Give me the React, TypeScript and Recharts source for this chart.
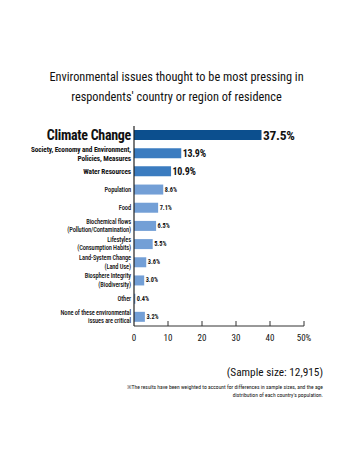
import { BarChart, Bar, XAxis, YAxis, Cell, LabelList } from "recharts";

const categories = [
  "Climate Change",
  "Society, Economy and Environment,\nPolicies, Measures",
  "Water Resources",
  "Population",
  "Food",
  "Biochemical flows\n(Pollution/Contamination)",
  "Lifestyles\n(Consumption Habits)",
  "Land-System Change\n(Land Use)",
  "Biosphere Integrity\n(Biodiversity)",
  "Other",
  "None of these environmental\nissues are critical",
];
const shares = [37.5, 13.9, 10.9, 8.6, 7.1, 6.5, 5.5, 3.6, 3.0, 0.4, 3.2];
const xTicks = [0, 10, 20, 30, 40, 50];

const data = categories.map((name, i) => ({ name, share: shares[i] }));

const FONT = "'Roboto Condensed', Roboto, sans-serif";

const barColor = (i: number) => (i === 0 ? "#0c4f8e" : i < 3 ? "#3b7cc0" : "#739fd6");

// label size depends on the rank of the row
const labelStyle = (i: number) =>
  i === 0
    ? { size: 14, weight: 700 }
    : i < 3
    ? { size: 7.3, weight: 700 }
    : { size: 6.4, weight: 500 };

const YTick = (props: any) => {
  const { x, y, payload, index } = props;
  const lines = String(payload.value).split("\n");
  const st = labelStyle(index);
  const lh = 8.6;
  const start = y - ((lines.length - 1) * lh) / 2;
  return (
    <text
      x={x - 3}
      y={start}
      textAnchor="end"
      dominantBaseline="central"
      fontFamily={FONT}
      fontSize={st.size}
      fontWeight={st.weight}
      fill="#111"
      style={{ letterSpacing: index === 0 ? -0.3 : -0.1 }}
    >
      {lines.map((l, k) => (
        <tspan key={k} x={x - 3} dy={k === 0 ? 0 : lh}>
          {l}
        </tspan>
      ))}
    </text>
  );
};

const XTick = (props: any) => {
  const { x, y, payload } = props;
  return (
    <g>
      {payload.value !== 0 && (
        <line x1={x} x2={x} y1={y} y2={y - 5} stroke="#333" strokeWidth={1} />
      )}
      <text x={x} y={y + 15} textAnchor="middle" fontFamily={FONT} fontSize={9} fill="#111">
        {payload.value === 50 ? "50%" : payload.value}
      </text>
    </g>
  );
};

const ValueLabel = (props: any) => {
  const { x, y, width, height, value, index } = props;
  const size = index === 0 ? 13.5 : index < 3 ? 10 : 6.3;
  return (
    <text
      x={x + width + 1.5}
      y={y + height / 2}
      dominantBaseline="central"
      fontFamily={FONT}
      fontSize={size}
      fontWeight={700}
      fill="#111"
      style={{ letterSpacing: index < 3 ? -0.3 : 0 }}
    >
      {Number(value).toFixed(1)}%
    </text>
  );
};

export default function App() {
  return (
    <div
      style={{
        position: "absolute",
        left: 0,
        top: 0,
        width: 359,
        height: 454,
        background: "#fff",
        fontFamily: FONT,
        color: "#111",
      }}
    >
      <div
        style={{
          position: "absolute",
          top: 67,
          left: -3,
          width: 359,
          textAlign: "center",
          fontSize: 12.3,
          lineHeight: "20px",
        }}
      >
        Environmental issues thought to be most pressing in
        <br />
        respondents' country or region of residence
      </div>
      <BarChart
        width={359}
        height={454}
        data={data}
        layout="vertical"
        margin={{ top: 126, right: 55, bottom: 102, left: 0 }}
        barCategoryGap={4}
      >
        <XAxis
          type="number"
          domain={[0, 50]}
          ticks={xTicks}
          interval={0}
          tickSize={0}
          tickMargin={0}
          tickLine={false}
          axisLine={{ stroke: "#333", strokeWidth: 1 }}
          tick={<XTick />}
          height={26}
        />
        <YAxis
          type="category"
          dataKey="name"
          width={134}
          tickLine={false}
          tickSize={0}
          tickMargin={0}
          axisLine={{ stroke: "#222", strokeWidth: 1.2 }}
          tick={<YTick />}
          interval={0}
        />
        <Bar dataKey="share" barSize={10} isAnimationActive={false}>
          {data.map((_, i) => (
            <Cell key={i} fill={barColor(i)} />
          ))}
          <LabelList dataKey="share" content={<ValueLabel />} />
        </Bar>
      </BarChart>
      <div
        style={{
          position: "absolute",
          top: 366,
          right: 36,
          fontSize: 11.3,
          whiteSpace: "nowrap",
        }}
      >
        (Sample size: 12,915)
      </div>
      <div
        style={{
          position: "absolute",
          top: 383,
          right: 36,
          fontSize: 5.6,
          lineHeight: "8px",
          textAlign: "right",
          whiteSpace: "nowrap",
        }}
      >
        ※The results have been weighted to account for differences in sample sizes, and the age
        <br />
        distribution of each country's population.
      </div>
    </div>
  );
}
